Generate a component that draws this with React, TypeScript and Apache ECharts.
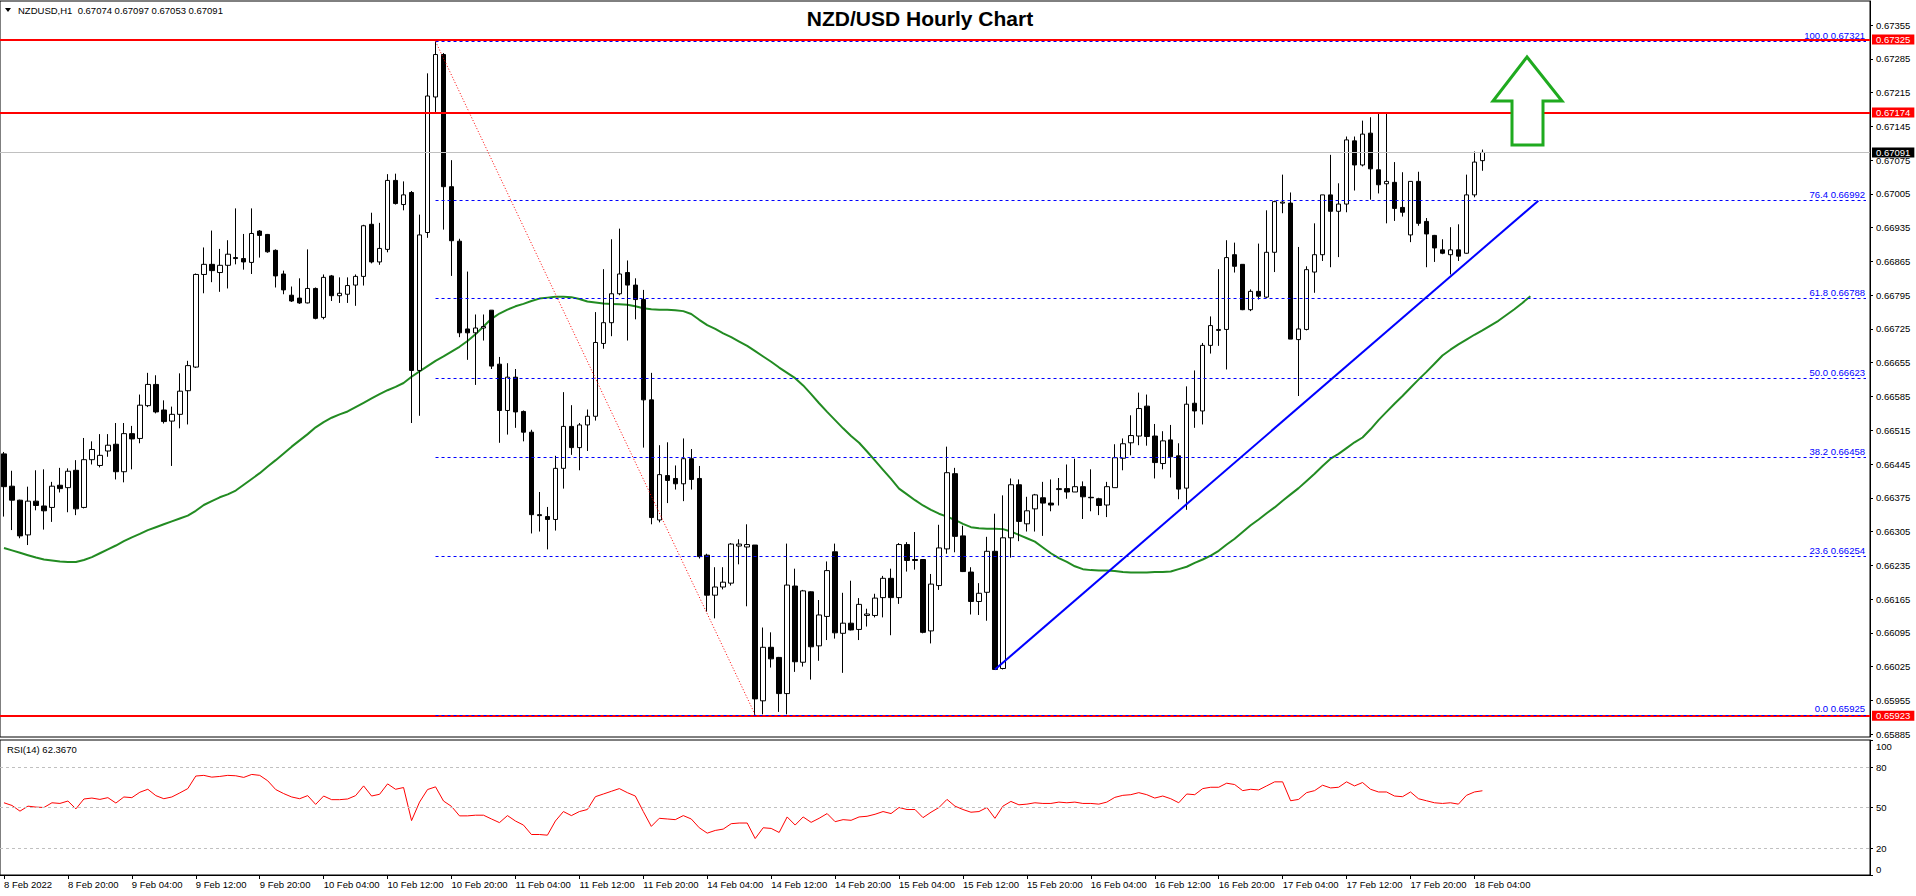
import { useEffect, useRef } from 'react';
import * as echarts from 'echarts';

// ---------- data ----------
const TICK_LABELS = [
  '8 Feb 2022', '8 Feb 20:00', '9 Feb 04:00', '9 Feb 12:00', '9 Feb 20:00', '10 Feb 04:00',
  '10 Feb 12:00', '10 Feb 20:00', '11 Feb 04:00', '11 Feb 12:00', '11 Feb 20:00', '14 Feb 04:00',
  '14 Feb 12:00', '14 Feb 20:00', '15 Feb 04:00', '15 Feb 12:00', '15 Feb 20:00', '16 Feb 04:00',
  '16 Feb 12:00', '16 Feb 20:00', '17 Feb 04:00', '17 Feb 12:00', '17 Feb 20:00', '18 Feb 04:00',
];
const BARS_PER_TICK = 8;
const SLOT_COUNT = 234; // bar slots visible across the chart width

const opens = [
  0.66466, 0.66399, 0.66370, 0.66298, 0.66368, 0.66358, 0.66355, 0.66401, 0.66396, 0.66432,
  0.66355, 0.66454, 0.66442, 0.66472, 0.66486, 0.66429, 0.66508, 0.66498, 0.66566, 0.66610,
  0.66557, 0.66534, 0.66548, 0.66597, 0.66646, 0.66838, 0.66859, 0.66842, 0.66857, 0.66873,
  0.66871, 0.66863, 0.66928, 0.66921, 0.66888, 0.66839, 0.66795, 0.66789, 0.66779, 0.66809,
  0.66749, 0.66835, 0.66794, 0.66797, 0.66816, 0.66834, 0.66942, 0.66864, 0.66890, 0.67033,
  0.66983, 0.67008, 0.66639, 0.66925, 0.67206, 0.67294, 0.67020, 0.66907, 0.66725, 0.66717,
  0.66727, 0.66764, 0.66652, 0.66556, 0.66625, 0.66554, 0.66511, 0.66340, 0.66336, 0.66330,
  0.66436, 0.66523, 0.66479, 0.66526, 0.66544, 0.66695, 0.66738, 0.66798, 0.66842, 0.66816,
  0.66786, 0.66578, 0.66329, 0.66421, 0.66415, 0.66404, 0.66456, 0.66415, 0.66256, 0.66173,
  0.66190, 0.66198, 0.66275, 0.66273, 0.66277, 0.65954, 0.66065, 0.66044, 0.65969, 0.66192,
  0.66034, 0.66180, 0.66068, 0.66129, 0.66263, 0.66094, 0.66115, 0.66102, 0.66131, 0.66131,
  0.66168, 0.66208, 0.66168, 0.66278, 0.66247, 0.66247, 0.66099, 0.66193, 0.66269, 0.66425,
  0.66296, 0.66221, 0.66160, 0.66179, 0.66264, 0.66021, 0.66292, 0.66402, 0.66321, 0.66352,
  0.66375, 0.66364, 0.66392, 0.66394, 0.66387, 0.66398, 0.66376, 0.66373, 0.66360, 0.66396,
  0.66457, 0.66489, 0.66503, 0.66565, 0.66503, 0.66446, 0.66495, 0.66462, 0.66395, 0.66571,
  0.66555, 0.66691, 0.66722, 0.66724, 0.66879, 0.66859, 0.66765, 0.66803, 0.66791, 0.66884,
  0.66986, 0.66986, 0.66703, 0.66724, 0.66843, 0.66879, 0.67003, 0.66969, 0.66984, 0.67115,
  0.67065, 0.67131, 0.67055, 0.67026, 0.67029, 0.66977, 0.66920, 0.67031, 0.66948, 0.66919,
  0.66889, 0.66879, 0.66889, 0.66882, 0.67003, 0.67074,
];
const highs = [
  0.66470, 0.66431, 0.66371, 0.66398, 0.66432, 0.66434, 0.66408, 0.66437, 0.66436, 0.66453,
  0.66499, 0.66492, 0.66507, 0.66507, 0.66530, 0.66530, 0.66524, 0.66589, 0.66634, 0.66629,
  0.66577, 0.66564, 0.66633, 0.66659, 0.66840, 0.66894, 0.66929, 0.66891, 0.66909, 0.66975,
  0.66922, 0.66975, 0.66930, 0.66922, 0.66890, 0.66846, 0.66813, 0.66830, 0.66890, 0.66811,
  0.66838, 0.66837, 0.66832, 0.66832, 0.66838, 0.66941, 0.66966, 0.66945, 0.67046, 0.67047,
  0.67031, 0.67011, 0.66962, 0.67255, 0.67321, 0.67297, 0.67075, 0.66912, 0.66844, 0.66755,
  0.66755, 0.66764, 0.66667, 0.66654, 0.66642, 0.66556, 0.66516, 0.66387, 0.66356, 0.66462,
  0.66594, 0.66567, 0.66530, 0.66558, 0.66760, 0.66849, 0.66911, 0.66933, 0.66867, 0.66830,
  0.66806, 0.66634, 0.66484, 0.66490, 0.66442, 0.66498, 0.66476, 0.66441, 0.66259, 0.66231,
  0.66231, 0.66281, 0.66289, 0.66320, 0.66277, 0.66106, 0.66096, 0.66045, 0.66280, 0.66228,
  0.66184, 0.66181, 0.66163, 0.66243, 0.66280, 0.66178, 0.66203, 0.66167, 0.66145, 0.66176,
  0.66213, 0.66228, 0.66281, 0.66283, 0.66304, 0.66247, 0.66217, 0.66319, 0.66481, 0.66437,
  0.66317, 0.66231, 0.66198, 0.66294, 0.66342, 0.66380, 0.66415, 0.66413, 0.66377, 0.66383,
  0.66408, 0.66413, 0.66416, 0.66444, 0.66456, 0.66409, 0.66434, 0.66375, 0.66408, 0.66486,
  0.66498, 0.66546, 0.66593, 0.66589, 0.66528, 0.66513, 0.66526, 0.66488, 0.66606, 0.66639,
  0.66696, 0.66751, 0.66849, 0.66909, 0.66904, 0.66859, 0.66807, 0.66902, 0.66971, 0.66991,
  0.67045, 0.67008, 0.66895, 0.66855, 0.66944, 0.67003, 0.67086, 0.67027, 0.67124, 0.67124,
  0.67157, 0.67164, 0.67172, 0.67174, 0.67071, 0.67050, 0.67031, 0.67051, 0.66955, 0.66920,
  0.66911, 0.66936, 0.66942, 0.67045, 0.67093, 0.67097,
];
const lows = [
  0.66336, 0.66308, 0.66291, 0.66277, 0.66349, 0.66309, 0.66325, 0.66386, 0.66345, 0.66339,
  0.66353, 0.66444, 0.66438, 0.66460, 0.66413, 0.66407, 0.66434, 0.66488, 0.66563, 0.66550,
  0.66529, 0.66441, 0.66519, 0.66527, 0.66644, 0.66799, 0.66822, 0.66802, 0.66809, 0.66859,
  0.66848, 0.66839, 0.66873, 0.66883, 0.66811, 0.66797, 0.66781, 0.66777, 0.66778, 0.66745,
  0.66745, 0.66783, 0.66779, 0.66779, 0.66773, 0.66815, 0.66861, 0.66858, 0.66884, 0.66983,
  0.66971, 0.66530, 0.66545, 0.66914, 0.67175, 0.66931, 0.66835, 0.66708, 0.66661, 0.66609,
  0.66701, 0.66642, 0.66489, 0.66506, 0.66520, 0.66492, 0.66301, 0.66305, 0.66268, 0.66307,
  0.66394, 0.66464, 0.66432, 0.66472, 0.66535, 0.66684, 0.66710, 0.66795, 0.66701, 0.66745,
  0.66479, 0.66320, 0.66324, 0.66364, 0.66392, 0.66368, 0.66392, 0.66249, 0.66139, 0.66125,
  0.66185, 0.66193, 0.66237, 0.66150, 0.65925, 0.65926, 0.66023, 0.65931, 0.65926, 0.66014,
  0.66025, 0.65998, 0.66037, 0.66080, 0.66083, 0.66012, 0.66100, 0.66080, 0.66108, 0.66127,
  0.66127, 0.66090, 0.66155, 0.66222, 0.66226, 0.66094, 0.66073, 0.66184, 0.66259, 0.66262,
  0.66221, 0.66133, 0.66132, 0.66120, 0.66019, 0.66019, 0.66251, 0.66285, 0.66305, 0.66305,
  0.66296, 0.66347, 0.66359, 0.66373, 0.66387, 0.66331, 0.66347, 0.66339, 0.66335, 0.66396,
  0.66432, 0.66463, 0.66484, 0.66483, 0.66415, 0.66434, 0.66417, 0.66372, 0.66350, 0.66520,
  0.66527, 0.66674, 0.66690, 0.66641, 0.66842, 0.66764, 0.66762, 0.66786, 0.66789, 0.66843,
  0.66965, 0.66704, 0.66586, 0.66722, 0.66800, 0.66866, 0.66853, 0.66874, 0.66967, 0.67012,
  0.67062, 0.66993, 0.67006, 0.66944, 0.66949, 0.66958, 0.66905, 0.66939, 0.66853, 0.66864,
  0.66880, 0.66838, 0.66866, 0.66881, 0.66998, 0.67053,
];
const closes = [
  0.66398, 0.66370, 0.66296, 0.66368, 0.66359, 0.66348, 0.66399, 0.66394, 0.66430, 0.66352,
  0.66454, 0.66475, 0.66463, 0.66484, 0.66429, 0.66508, 0.66497, 0.66567, 0.66610, 0.66553,
  0.66533, 0.66548, 0.66596, 0.66649, 0.66838, 0.66859, 0.66846, 0.66857, 0.66880, 0.66871,
  0.66864, 0.66923, 0.66919, 0.66885, 0.66835, 0.66806, 0.66783, 0.66779, 0.66809, 0.66747,
  0.66832, 0.66794, 0.66799, 0.66815, 0.66834, 0.66939, 0.66864, 0.66892, 0.67033, 0.66985,
  0.67003, 0.66639, 0.66920, 0.67208, 0.67294, 0.67020, 0.66908, 0.66717, 0.66717, 0.66727,
  0.66730, 0.66648, 0.66556, 0.66625, 0.66553, 0.66511, 0.66340, 0.66338, 0.66330, 0.66436,
  0.66523, 0.66479, 0.66526, 0.66544, 0.66697, 0.66738, 0.66798, 0.66839, 0.66816, 0.66786,
  0.66578, 0.66334, 0.66423, 0.66411, 0.66404, 0.66456, 0.66413, 0.66253, 0.66173, 0.66190,
  0.66200, 0.66279, 0.66279, 0.66278, 0.65958, 0.66065, 0.66041, 0.65969, 0.66194, 0.66035,
  0.66182, 0.66066, 0.66132, 0.66224, 0.66095, 0.66115, 0.66101, 0.66154, 0.66134, 0.66167,
  0.66208, 0.66168, 0.66278, 0.66245, 0.66245, 0.66096, 0.66196, 0.66271, 0.66427, 0.66295,
  0.66222, 0.66160, 0.66177, 0.66264, 0.66019, 0.66292, 0.66402, 0.66326, 0.66348, 0.66381,
  0.66364, 0.66360, 0.66394, 0.66387, 0.66398, 0.66377, 0.66375, 0.66359, 0.66398, 0.66458,
  0.66487, 0.66504, 0.66560, 0.66502, 0.66448, 0.66493, 0.66460, 0.66393, 0.66569, 0.66555,
  0.66691, 0.66732, 0.66724, 0.66873, 0.66855, 0.66765, 0.66803, 0.66793, 0.66884, 0.66989,
  0.66988, 0.66704, 0.66725, 0.66848, 0.66879, 0.67003, 0.66969, 0.66984, 0.67117, 0.67065,
  0.67129, 0.67057, 0.67024, 0.67031, 0.66975, 0.66967, 0.67031, 0.66944, 0.66922, 0.66893,
  0.66882, 0.66889, 0.66876, 0.67003, 0.67071, 0.67091,
];

// green moving average (drawn shifted, ends 6 bars after the last candle)
const maValues = [
  0.66271, 0.66266, 0.66261, 0.66256, 0.66251, 0.66247, 0.66245, 0.66243, 0.66242, 0.66242,
  0.66246, 0.66252, 0.66260, 0.66268, 0.66276, 0.66285, 0.66293, 0.66300, 0.66308, 0.66314,
  0.66320, 0.66326, 0.66332, 0.66338, 0.66348, 0.66360, 0.66368, 0.66376, 0.66382, 0.66390,
  0.66402, 0.66414, 0.66426, 0.66440, 0.66453, 0.66467, 0.66481, 0.66494, 0.66507, 0.66521,
  0.66532, 0.66541, 0.66548, 0.66554, 0.66563, 0.66572, 0.66581, 0.66590, 0.66598, 0.66605,
  0.66613, 0.66626, 0.66637, 0.66648, 0.66659, 0.66668, 0.66678, 0.66688, 0.66700, 0.66714,
  0.66730, 0.66746, 0.66757, 0.66765, 0.66772, 0.66777, 0.66783, 0.66788, 0.66790, 0.66792,
  0.66792, 0.66791, 0.66787, 0.66782, 0.66780, 0.66778, 0.66777, 0.66776, 0.66775, 0.66772,
  0.66768, 0.66766, 0.66765, 0.66765, 0.66764, 0.66762, 0.66756, 0.66744, 0.66733, 0.66725,
  0.66716, 0.66708, 0.66699, 0.66690, 0.66679, 0.66668, 0.66657, 0.66645, 0.66634, 0.66623,
  0.66608, 0.66590, 0.66571, 0.66553, 0.66536, 0.66519, 0.66503, 0.66489, 0.66471, 0.66452,
  0.66433, 0.66414, 0.66394, 0.66382, 0.66370, 0.66359, 0.66350, 0.66342, 0.66336, 0.66329,
  0.66321, 0.66314, 0.66312, 0.66311, 0.66311, 0.66310, 0.66305, 0.66298, 0.66291, 0.66284,
  0.66272, 0.66260, 0.66250, 0.66242, 0.66233, 0.66227, 0.66225, 0.66224, 0.66224, 0.66223,
  0.66221, 0.66220, 0.66220, 0.66220, 0.66221, 0.66221, 0.66222, 0.66227, 0.66232, 0.66240,
  0.66247, 0.66255, 0.66265, 0.66278, 0.66290, 0.66304, 0.66318, 0.66330, 0.66343, 0.66355,
  0.66369, 0.66382, 0.66395, 0.66410, 0.66425, 0.66441, 0.66456, 0.66466, 0.66478, 0.66490,
  0.66500, 0.66517, 0.66536, 0.66553, 0.66570, 0.66586, 0.66603, 0.66620, 0.66636, 0.66653,
  0.66670, 0.66682, 0.66693, 0.66703, 0.66713, 0.66722, 0.66732, 0.66742, 0.66754, 0.66766,
  0.66779, 0.66793,
];

const rsiValues = [
  53.5, 51.5, 47.3, 51, 50.3, 50, 53.5, 53, 54.8, 49,
  56.3, 57, 56, 57.3, 53.3, 57.8, 57.3, 61.3, 63.5, 58.8,
  56.5, 57.8, 60.8, 64, 73.3, 73.8, 72.5, 73, 73.8, 73.5,
  72.3, 74.5, 73.8, 69.8, 63.3, 60.3, 57.8, 56.5, 58.8, 52.3,
  58.5, 55.8, 55.8, 56.3, 58.8, 66, 58.5, 59.8, 67.5, 63.5,
  64.8, 40.3, 54, 63.3, 65.3, 54.8, 50.8, 43.8, 43.8, 44.3,
  44.3, 41.5, 38.8, 44, 40, 37, 30, 30, 29.5, 40,
  47, 44, 47, 48.5, 58, 60, 62, 64, 61, 58.5,
  47, 36, 42, 41.5, 41, 44, 41.5, 35, 31, 33,
  34, 38, 38.5, 38.5, 27, 35, 34.5, 31.5, 43, 37,
  43, 39, 42, 45.5, 39.5, 41, 40.5, 43, 43.5, 45,
  47, 45.5, 50, 48.5, 48.5, 42.5, 46.5, 50, 56, 51,
  48.5, 46.5, 47, 50, 42, 51, 54.5, 52, 52.5, 53.5,
  53, 53, 54, 53.5, 54, 53, 53, 52.5, 54, 57.5,
  59, 59.5, 61, 59.5, 57, 58.5, 56.5, 53.5, 60, 59.5,
  64, 65, 65, 68, 67, 62.5, 63.5, 63, 66, 69,
  69, 55, 56, 61, 62.5, 66.5, 64.5, 65, 69, 66,
  68.5, 63.5, 61.5, 61.5, 58.5, 58, 61.5, 56.5, 55, 53.5,
  53, 53.5, 52.5, 59, 61.5, 62.4,
];

// horizontal levels
const RESISTANCE_LEVELS = [0.67325, 0.67174, 0.65923];
const BID_PRICE = 0.67091;
const FIB_START_BAR = 54;
const FIB_END_BAR = 94;
const FIB_LEVELS = [
  { pct: '100.0', price: 0.67321 },
  { pct: '76.4', price: 0.66992 },
  { pct: '61.8', price: 0.66788 },
  { pct: '50.0', price: 0.66623 },
  { pct: '38.2', price: 0.66458 },
  { pct: '23.6', price: 0.66254 },
  { pct: '0.0', price: 0.65925 },
];
const TREND_START = { bar: 124, price: 0.66019 };
const TREND_END = { bar: 192, price: 0.66991 };

const PRICE_TICKS = [
  0.65885, 0.65955, 0.66025, 0.66095, 0.66165, 0.66235, 0.66305, 0.66375, 0.66445, 0.66515,
  0.66585, 0.66655, 0.66725, 0.66795, 0.66865, 0.66935, 0.67005, 0.67075, 0.67145, 0.67215,
  0.67285, 0.67355,
];
const RSI_TICKS = [0, 20, 50, 80, 100];
const RSI_LEVELS = [80, 50, 20];
const PRICE_MIN = 0.65879;
const PRICE_MAX = 0.67405;

const FONT = 'Liberation Sans';
const SMALL = 9.5;

export default function App() {
  const ref = useRef<HTMLDivElement>(null);

  useEffect(() => {
    if (!ref.current) return;
    const chart = echarts.init(ref.current, undefined, { renderer: 'svg' });

    const slots = Array.from({ length: SLOT_COUNT }, (_, i) => String(i));
    const candles = opens.map((o, i) => [o, closes[i], lows[i], highs[i]]);
    const lastSlot = SLOT_COUNT - 1;
    const showTick = (index: number) =>
      index % BARS_PER_TICK === 0 && index / BARS_PER_TICK < TICK_LABELS.length;

    const priceBox = (txt: string, bg: string) => ({
      show: true,
      position: 'end',
      distance: 2,
      formatter: txt,
      backgroundColor: bg,
      color: '#fff',
      fontFamily: FONT,
      fontSize: SMALL,
      lineHeight: 10,
      padding: [0, 4, 0, 4],
    });

    const markLines: any[] = [];
    RESISTANCE_LEVELS.forEach((p) => {
      markLines.push({
        yAxis: p,
        lineStyle: { color: '#ff0000', width: 2, type: 'solid' },
        label: priceBox(p.toFixed(5), '#ff0000'),
      });
    });
    markLines.push({
      yAxis: BID_PRICE,
      lineStyle: { color: '#c0c0c0', width: 1, type: 'solid' },
      label: priceBox(BID_PRICE.toFixed(5), '#000000'),
    });
    FIB_LEVELS.forEach((f) => {
      markLines.push([
        {
          coord: [FIB_START_BAR, f.price],
          lineStyle: { color: '#0000ff', width: 1, type: [3, 3] },
          label: {
            show: true,
            position: 'insideEndTop',
            distance: 1,
            formatter: `${f.pct} ${f.price.toFixed(5)}`,
            color: '#0000ff',
            fontFamily: FONT,
            fontSize: SMALL,
          },
        },
        { coord: [lastSlot, f.price] },
      ]);
    });
    markLines.push([
      {
        coord: [FIB_START_BAR, FIB_LEVELS[0].price],
        lineStyle: { color: '#ff0000', width: 1, type: [1, 2] },
        label: { show: false },
      },
      { coord: [FIB_END_BAR, FIB_LEVELS[FIB_LEVELS.length - 1].price] },
    ]);
    markLines.push([
      {
        coord: [TREND_START.bar, TREND_START.price],
        lineStyle: { color: '#0000ff', width: 2, type: 'solid' },
        label: { show: false },
      },
      { coord: [TREND_END.bar, TREND_END.price] },
    ]);

    const option: any = {
      animation: false,
      backgroundColor: '#ffffff',
      textStyle: { fontFamily: FONT },
      grid: [
        { left: 0, top: 1, width: 1870, height: 736, show: true, borderColor: '#000', borderWidth: 1 },
        { left: 0, top: 740, width: 1870, height: 135, show: true, borderColor: '#000', borderWidth: 1 },
      ],
      xAxis: [
        {
          type: 'category',
          gridIndex: 0,
          data: slots,
          boundaryGap: true,
          axisLine: { show: false },
          axisTick: { show: false },
          axisLabel: { show: false },
          splitLine: { show: false },
        },
        {
          type: 'category',
          gridIndex: 1,
          data: slots,
          boundaryGap: true,
          axisLine: { show: true, lineStyle: { color: '#000', width: 1 } },
          axisTick: {
            show: true,
            alignWithLabel: true,
            length: 4,
            interval: (index: number) => showTick(index),
            lineStyle: { color: '#000' },
          },
          axisLabel: {
            show: true,
            interval: (index: number) => showTick(index),
            formatter: (_v: string, index: number) => TICK_LABELS[index / BARS_PER_TICK] ?? '',
            align: 'left',
            margin: 4,
            color: '#000',
            fontFamily: FONT,
            fontSize: SMALL,
          },
          splitLine: { show: false },
        },
      ],
      yAxis: [
        {
          type: 'value',
          gridIndex: 0,
          position: 'right',
          min: PRICE_MIN,
          max: PRICE_MAX,
          scale: true,
          axisLine: { show: true, lineStyle: { color: '#000' } },
          axisTick: { show: true, length: 3, customValues: PRICE_TICKS, lineStyle: { color: '#000' } },
          axisLabel: {
            show: true,
            customValues: PRICE_TICKS,
            formatter: (v: number) => v.toFixed(5),
            margin: 6,
            color: '#000',
            fontFamily: FONT,
            fontSize: SMALL,
          },
          splitLine: { show: false },
        },
        {
          type: 'value',
          gridIndex: 1,
          position: 'right',
          min: 0,
          max: 100,
          axisLine: { show: true, lineStyle: { color: '#000' } },
          axisTick: { show: true, length: 3, customValues: RSI_TICKS, lineStyle: { color: '#000' } },
          axisLabel: {
            show: true,
            customValues: RSI_TICKS,
            formatter: (v: number) => (v === 100 ? '{t|100}' : v === 0 ? '{b|0}' : String(v)),
            margin: 6,
            color: '#000',
            fontFamily: FONT,
            fontSize: SMALL,
            rich: {
              t: { padding: [12, 0, 0, 0], fontSize: SMALL, fontFamily: FONT, color: '#000' },
              b: { padding: [0, 0, 12, 0], fontSize: SMALL, fontFamily: FONT, color: '#000' },
            },
          },
          splitLine: { show: false },
        },
      ],
      series: [
        {
          name: 'NZDUSD',
          type: 'candlestick',
          xAxisIndex: 0,
          yAxisIndex: 0,
          data: candles,
          barWidth: 5,
          itemStyle: {
            color: '#ffffff',
            color0: '#000000',
            borderColor: '#000000',
            borderColor0: '#000000',
            borderWidth: 1,
          },
          markLine: {
            silent: true,
            precision: 5,
            symbol: ['none', 'none'],
            animation: false,
            data: markLines,
          },
          z: 3,
        },
        {
          name: 'MA',
          type: 'line',
          xAxisIndex: 0,
          yAxisIndex: 0,
          data: maValues,
          showSymbol: false,
          symbol: 'none',
          lineStyle: { color: '#228b22', width: 2 },
          z: 2,
        },
        {
          name: 'RSI',
          type: 'line',
          xAxisIndex: 1,
          yAxisIndex: 1,
          data: rsiValues,
          showSymbol: false,
          symbol: 'none',
          lineStyle: { color: '#ff0000', width: 1 },
          markLine: {
            silent: true,
            precision: 2,
            symbol: ['none', 'none'],
            label: { show: false },
            lineStyle: { color: '#c0c0c0', width: 1, type: [3, 3] },
            data: RSI_LEVELS.map((v) => ({ yAxis: v })),
          },
        },
      ],
      graphic: [
        {
          type: 'text',
          x: 920,
          y: 18,
          style: {
            text: 'NZD/USD Hourly Chart',
            font: `bold 21px "${FONT}"`,
            fill: '#000',
            textAlign: 'center',
            textVerticalAlign: 'middle',
          },
        },
        {
          type: 'polygon',
          shape: { points: [[5, 8], [11, 8], [8, 12]] },
          style: { fill: '#000' },
        },
        {
          type: 'text',
          x: 18,
          y: 5,
          style: {
            text: 'NZDUSD,H1  0.67074 0.67097 0.67053 0.67091',
            font: `${SMALL}px "${FONT}"`,
            fill: '#000',
          },
        },
        {
          type: 'text',
          x: 7,
          y: 744,
          style: {
            text: 'RSI(14) 62.3670',
            font: `${SMALL}px "${FONT}"`,
            fill: '#000',
          },
        },
        {
          type: 'polygon',
          shape: {
            points: [
              [1527, 57], [1562, 101], [1543, 101], [1543, 145],
              [1512, 145], [1512, 101], [1493, 101],
            ],
          },
          style: { fill: '#ffffff', stroke: '#1faa1f', lineWidth: 3, lineJoin: 'miter' },
          z: 10,
        },
      ],
    };

    chart.setOption(option);
    return () => chart.dispose();
  }, []);

  return (
    <div
      ref={ref}
      style={{ position: 'fixed', left: 0, top: 0, width: 1916, height: 896, background: '#fff' }}
    />
  );
}
